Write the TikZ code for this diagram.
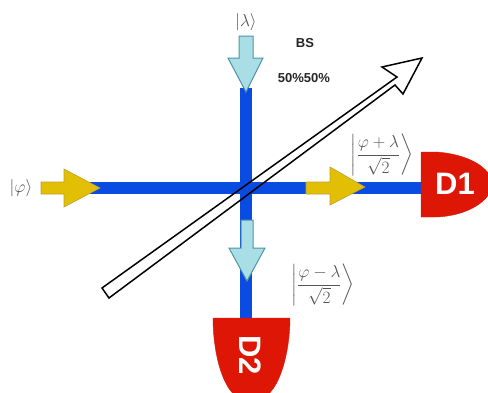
\documentclass[tikz,border=0pt]{standalone}
\usepackage{amsmath}
\usepackage{fontspec}
\setsansfont{Liberation Sans}
\begin{document}
\begin{tikzpicture}[x=1pt,y=-1pt,
  beam/.style={line width=12pt},
  lightarrow/.style={fill=lightcyan,draw=tealedge,line width=1pt,line join=miter},
  yellowarrow/.style={fill=goldy,draw=goldedge,line width=.6pt},
  detector/.style={fill=detred,draw=detred},
  detlabel/.style={font=\sffamily\bfseries\fontsize{31}{31}\selectfont,text=white,inner sep=0pt},
  ket/.style={text=ketgray,inner sep=0pt,font=\fontsize{19}{22}\selectfont},
  bslabel/.style={text=black!85,inner sep=0pt,font=\sffamily\bfseries\fontsize{13}{15}\selectfont},
  bsarrow/.style={draw=black,line width=1.5pt,line join=miter}]
\definecolor{beamblue}{RGB}{10,75,225}
\definecolor{lightcyan}{RGB}{170,222,230}
\definecolor{tealedge}{RGB}{75,150,165}
\definecolor{goldy}{RGB}{226,190,5}
\definecolor{goldedge}{RGB}{190,160,40}
\definecolor{detred}{RGB}{222,22,5}
\definecolor{ketgray}{RGB}{85,85,85}
\useasboundingbox (0,0) rectangle (488,392);
\fill[white] (0,0) rectangle (488,392);
\clip (0,0) rectangle (488,392);
% named points
\coordinate (vtop) at (246,88);
\coordinate (vbot) at (246,320);
\coordinate (hleft) at (90,188);
\coordinate (hright) at (423,188);
% beams
\draw[beam,draw=beamblue] (vtop) -- (vbot);
\draw[beam,draw=beamblue] (hleft) -- (hright);
% beam splitter arrow
\draw[bsarrow] (102,288) -- (397,77) -- (382,67) -- (422,58) -- (403,94) -- (395,85) -- (109,298) -- cycle;
% light arrows
\path[lightarrow] (239,36) -- (253,36) -- (253,58) -- (263,58) -- (246,92) -- (228,58) -- (239,58) -- cycle;
\path[lightarrow] (241,220) -- (253,220) -- (253,248) -- (265,248) -- (247,281) -- (229,248) -- (241,248) -- cycle;
% yellow arrows
\path[yellowarrow] (41,182) -- (64,182) -- (64,169) -- (100,188) -- (64,207) -- (64,194) -- (41,194) -- cycle;
\path[yellowarrow] (306,182) -- (330,182) -- (330,167) -- (365,187) -- (330,205) -- (330,194) -- (306,194) -- cycle;
% detectors
\path[detector] (421,152) -- (436,152) .. controls (468,154) and (492,168) .. (492,184) .. controls (492,200) and (468,216) .. (436,217) -- (421,217) -- cycle;
\path[detector] (213,318) -- (290,318) .. controls (290,350) and (280,402) .. (251,402) .. controls (222,402) and (213,350) .. (213,318) -- cycle;
\node[detlabel] (d1) at (455,184) {D1};
\node[detlabel,rotate=-90] (d2) at (250,355) {D2};
% labels
\node[ket] (lam) at (246,22) {$|\lambda\rangle$};
\node[ket] (phi) at (21,188) {$|\varphi\rangle$};
\node[bslabel] (bs) at (305,43) {BS};
\node[bslabel] (ratio) at (304,78) {50\%50\%};
\node[ket] (plus) at (382,155) {$\left|\dfrac{\varphi+\lambda}{\sqrt{2}}\right\rangle$};
\node[ket] (minus) at (323,285) {$\left|\dfrac{\varphi-\lambda}{\sqrt{2}}\right\rangle$};
\end{tikzpicture}
\end{document}
